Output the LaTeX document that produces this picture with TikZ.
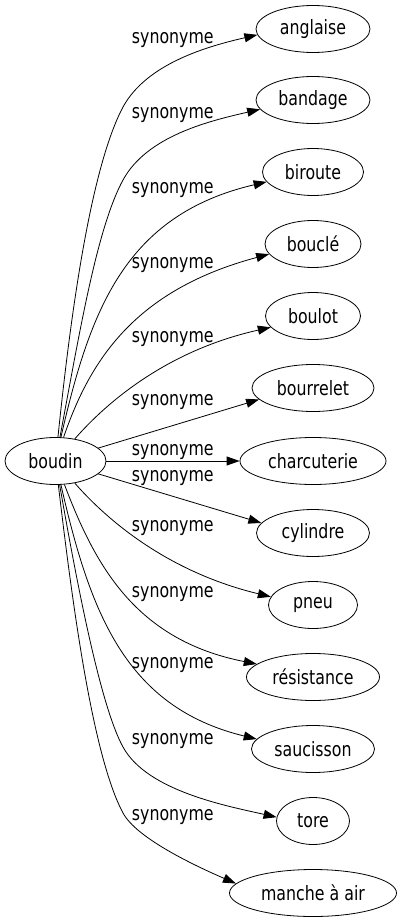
\documentclass[tikz,border=0pt]{standalone}
\usepackage{fontspec}
\usepackage{graphicx}
\setmainfont{DejaVu Sans}
\usetikzlibrary{shapes.geometric,arrows.meta}
\newcommand{\tallword}[1]{\scalebox{1}[1.25]{#1}}
\begin{document}
\begin{tikzpicture}[x=1pt,y=-1pt,
  word/.style={draw,ellipse,inner sep=0pt,minimum height=47pt,line width=0.8pt,font=\fontsize{15.8}{18}\selectfont},
  lbl/.style={font=\fontsize{15.8}{18}\selectfont,inner sep=0pt},
  rel/.style={-{Triangle[length=13pt,width=9pt]},line width=0.8pt}]
\useasboundingbox (0,0) rectangle (401,923);
\node[word,minimum width=101pt] (boudin) at (55.5,461) {\tallword{boudin}};
\node[word,minimum width=114pt] (anglaise) at (313,29) {\tallword{anglaise}};
\node[word,minimum width=114pt] (bandage) at (313,100) {\tallword{bandage}};
\node[word,minimum width=101pt] (biroute) at (313,172) {\tallword{biroute}};
\node[word,minimum width=96pt] (boucle) at (313,244) {\tallword{bouclé}};
\node[word,minimum width=95pt] (boulot) at (313,316) {\tallword{boulot}};
\node[word,minimum width=122pt] (bourrelet) at (313,388) {\tallword{bourrelet}};
\node[word,minimum width=146pt] (charcuterie) at (313,461) {\tallword{charcuterie}};
\node[word,minimum width=113pt] (cylindre) at (313,533) {\tallword{cylindre}};
\node[word,minimum width=89pt] (pneu) at (313,605) {\tallword{pneu}};
\node[word,minimum width=133pt] (resistance) at (313,677) {\tallword{résistance}};
\node[word,minimum width=123pt] (saucisson) at (313,749) {\tallword{saucisson}};
\node[word,minimum width=73pt] (tore) at (313,821) {\tallword{tore}};
\node[word,minimum width=167pt] (manche) at (313,893) {\tallword{manche à air}};

\node[lbl] (l1) at (172.8,40) {\tallword{synonyme}};
\node[lbl] (l2) at (172.8,115) {\tallword{synonyme}};
\node[lbl] (l3) at (172.8,190) {\tallword{synonyme}};
\node[lbl] (l4) at (172.8,265.5) {\tallword{synonyme}};
\node[lbl] (l5) at (172.8,339) {\tallword{synonyme}};
\node[lbl] (l6) at (172.8,402) {\tallword{synonyme}};
\node[lbl] (l7) at (172.8,452) {\tallword{synonyme}};
\node[lbl] (l8) at (172.8,478) {\tallword{synonyme}};
\node[lbl] (l9) at (172.8,528.5) {\tallword{synonyme}};
\node[lbl] (l10) at (172.8,594) {\tallword{synonyme}};
\node[lbl] (l11) at (172.8,665) {\tallword{synonyme}};
\node[lbl] (l12) at (172.8,741.5) {\tallword{synonyme}};
\node[lbl] (l13) at (172.8,817) {\tallword{synonyme}};

\draw[rel] (boudin) .. controls (70,320) and (90,169) .. (123,107) .. controls (147,63) and (209,46) .. (anglaise.186);
\draw[rel] (boudin) .. controls (80,330) and (97,228) .. (123,180) .. controls (147,136) and (209,121) .. (bandage.190);
\draw[rel] (boudin) .. controls (90,310) and (125,215) .. (biroute.192);
\draw[rel] (boudin) .. controls (90,360) and (135,290) .. (boucle.193);
\draw[rel] (boudin) .. controls (100,410) and (160,352) .. (boulot.195);
\draw[rel] (boudin) -- (bourrelet.192);
\draw[rel] (boudin) -- (charcuterie);
\draw[rel] (boudin) -- (cylindre.169);
\draw[rel] (boudin) .. controls (100,512) and (160,570) .. (pneu.169);
\draw[rel] (boudin) .. controls (95,565) and (135,640) .. (resistance.167);
\draw[rel] (boudin) .. controls (90,612) and (125,707) .. (saucisson.170);
\draw[rel] (boudin) .. controls (78,590) and (101,707) .. (123,747) .. controls (147,791) and (227,806) .. (tore.174);
\draw[rel] (boudin) .. controls (72,600) and (92,755) .. (123,813) .. controls (137,839) and (198,867) .. (manche.173);
\end{tikzpicture}
\end{document}
